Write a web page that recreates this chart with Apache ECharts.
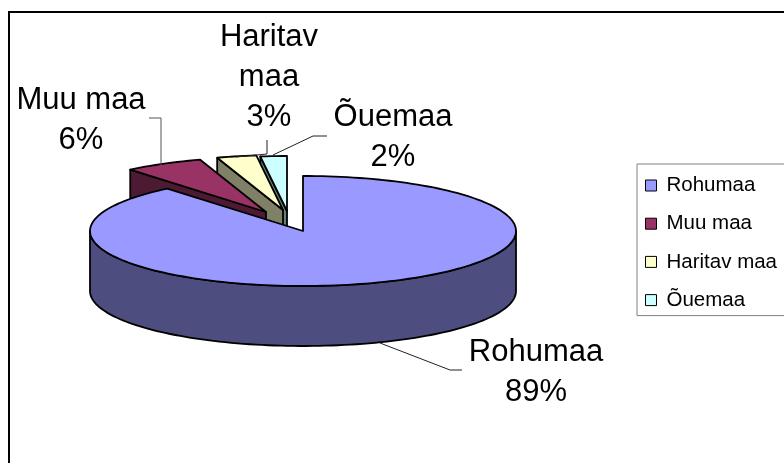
<!DOCTYPE html>
<html>
<head>
<meta charset="utf-8">
<style>html,body{margin:0;padding:0;background:#fff}#c{width:784px;height:463px}</style>
<script src="https://cdn.jsdelivr.net/npm/echarts@6/dist/echarts.min.js"></script>
</head>
<body>
<div id="c"></div>
<script>
const categories = ['Rohumaa', 'Muu maa', 'Haritav maa', 'Õuemaa'];
const shares = [89, 6, 3, 2];
const topColors = ['#9999FF', '#993366', '#FFFFCC', '#CCFFFF'];
const sideColors = ['#4D4D80', '#4D1A33', '#808066', '#668080'];

// layout of the tilted pie, in pixels
const pie = { cx: 303, cy: 231, rx: 213, ry: 55, depth: 60 };
const explodeX = [0, -37, -20, -16];
const explodeY = [0, -19, -21, -20];
const labelX = [536, 81, 269, 393];
const labelY = [372, 120, 77, 137];
const labelBreak = [false, false, true, false];
const leaders = [
  [[380, 343], [450, 370], [462, 370]],
  [[149, 118], [161, 118], [161, 165]],
  [[267, 140], [267, 154], [236, 157]],
  [[327, 136], [313, 136], [273, 155]]
];
const FONT = '"Liberation Sans", Arial, sans-serif';
const total = shares.reduce((a, b) => a + b, 0);

function renderSlice(idx) {
  return function (params, api) {
    const v = api.value(0);
    let before = 0;
    for (let i = 0; i < idx; i++) before += shares[i];
    const a0 = before / total * Math.PI * 2;
    const a1 = (before + v) / total * Math.PI * 2;
    const cx = pie.cx + explodeX[idx], cy = pie.cy + explodeY[idx];
    const pt = (a, dy) => [cx + pie.rx * Math.sin(a), cy - pie.ry * Math.cos(a) + (dy || 0)];
    const arc = (s, e, dy) => {
      const n = Math.max(2, Math.ceil(Math.abs(e - s) / 0.03));
      const out = [];
      for (let i = 0; i <= n; i++) out.push(pt(s + (e - s) * i / n, dy));
      return out;
    };
    const edge = { stroke: '#000', lineWidth: 1.8, lineJoin: 'round' };
    const children = [];
    // radial cut face on the leading side (only the small back slices show one)
    if (idx > 0) {
      children.push({
        type: 'polygon',
        shape: { points: [[cx, cy], pt(a0), pt(a0, pie.depth), [cx, cy + pie.depth]] },
        style: Object.assign({ fill: sideColors[idx] }, edge)
      });
    }
    // outer wall for the front half of the rim
    const fs = Math.max(a0, Math.PI / 2), fe = Math.min(a1, Math.PI * 1.5);
    if (fe > fs) {
      const top = arc(fs, fe, 0), bottom = arc(fe, fs, pie.depth);
      children.push({
        type: 'polygon',
        shape: { points: top.concat(bottom) },
        style: Object.assign({ fill: sideColors[idx] }, edge)
      });
    }
    // top face
    children.push({
      type: 'polygon',
      shape: { points: [[cx, cy]].concat(arc(a0, a1)) },
      style: Object.assign({ fill: topColors[idx] }, edge)
    });
    // leader line and label
    children.push({
      type: 'polyline',
      shape: { points: leaders[idx] },
      style: { stroke: idx === 1 ? '#555' : '#222', lineWidth: 1, fill: null }
    });
    const name = labelBreak[idx] ? categories[idx].replace(' ', '\n') : categories[idx];
    children.push({
      type: 'text',
      x: labelX[idx], y: labelY[idx],
      style: {
        text: name + '\n' + Math.round(v / total * 100) + '%',
        font: '31px ' + FONT, lineHeight: 40,
        fill: '#000', align: 'center', verticalAlign: 'middle'
      }
    });
    return { type: 'group', children: children };
  };
}

const drawOrder = [3, 2, 1, 0];
const chart = echarts.init(document.getElementById('c'), null, { renderer: 'canvas' });
chart.setOption({
  animation: false,
  backgroundColor: '#fff',
  graphic: [{
    type: 'rect', z: -10, silent: true,
    shape: { x: 9, y: 12, width: 800, height: 480 },
    style: { fill: '#fff', stroke: '#000', lineWidth: 2 }
  }],
  legend: {
    orient: 'vertical', left: 637, top: 164,
    data: categories,
    padding: [11, 20, 5, 8],
    itemWidth: 11, itemHeight: 11, itemGap: 17.2,
    icon: 'rect', selectedMode: false,
    borderColor: '#808080', borderWidth: 1,
    backgroundColor: '#fff',
    itemStyle: { borderColor: '#000', borderWidth: 1 },
    textStyle: { fontFamily: FONT, fontSize: 20.5, color: '#000', padding: [0, 0, 0, 5] }
  },
  series: drawOrder.map(i => ({
    type: 'custom',
    name: categories[i],
    coordinateSystem: 'none',
    silent: true,
    itemStyle: { color: topColors[i] },
    data: [[shares[i]]],
    renderItem: renderSlice(i)
  }))
});
</script>
</body>
</html>
